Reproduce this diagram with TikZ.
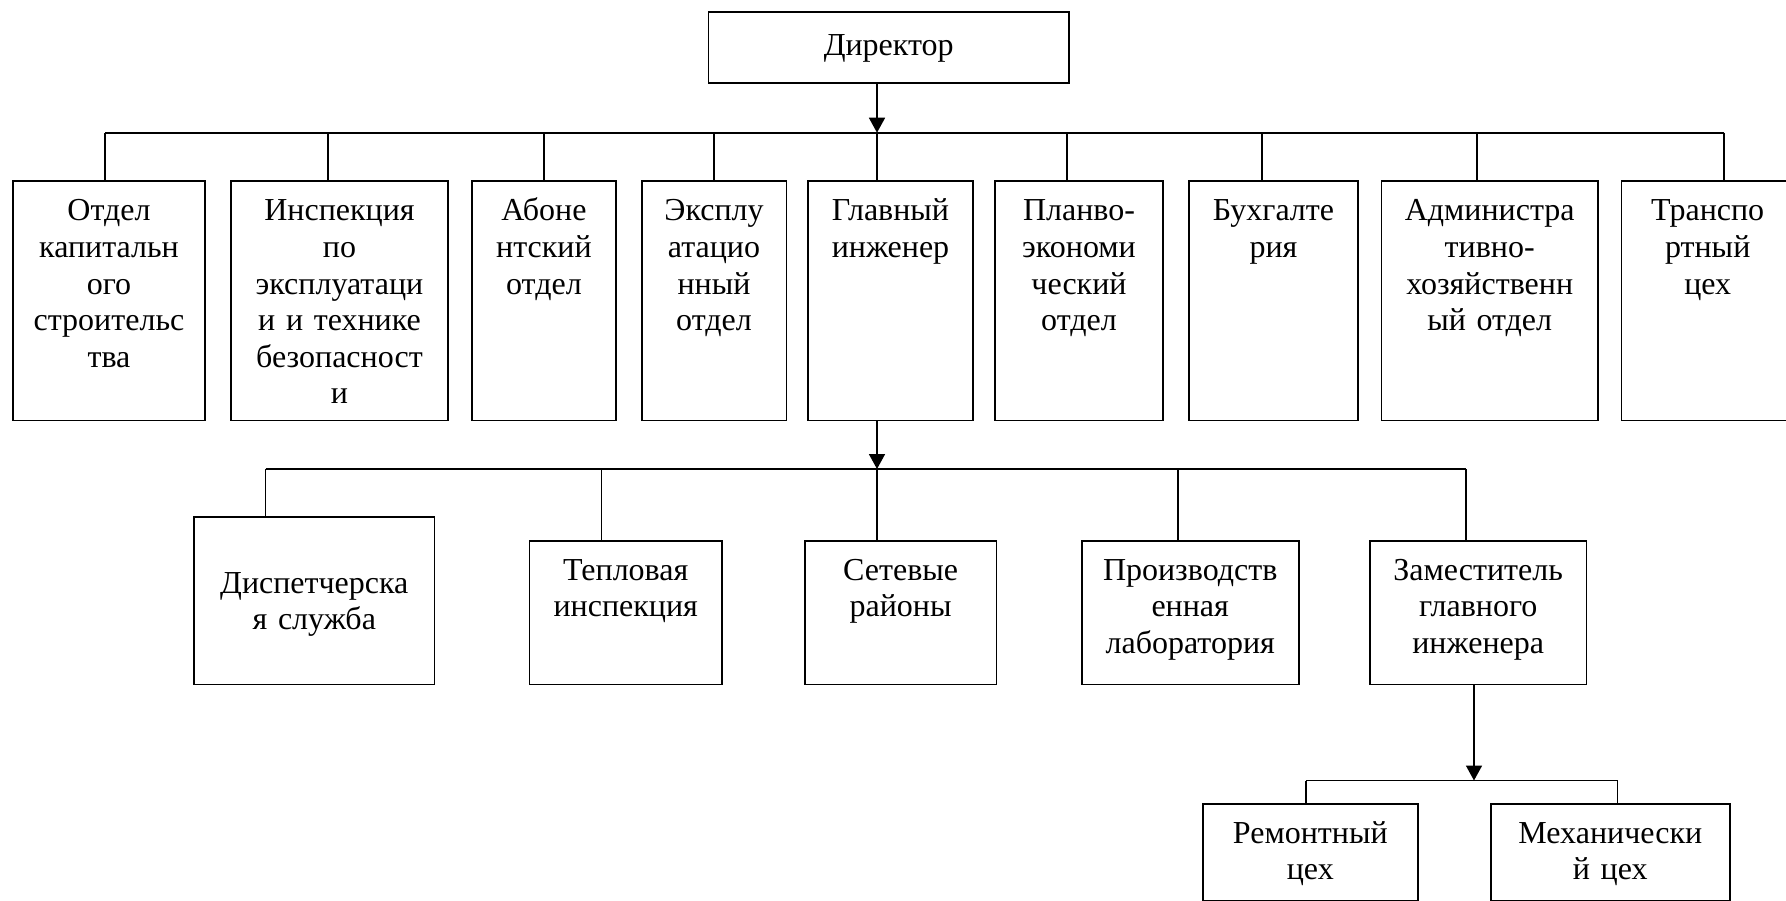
\documentclass[tikz,border=0pt]{standalone}
\usepackage{fontspec}
\setmainfont{Liberation Serif}
\usetikzlibrary{arrows.meta}

% one unit of the organisation chart: frame plus its centred caption
% #1 name, #2 #3 centre, #4 width, #5 height, #6 first baseline, #7 caption
\newcommand\orgunit[7]{%
  \node[unitframe, minimum width=#4pt, minimum height=#5pt] (#1) at (#2,#3) {};
  \node[unitcaption, anchor=base] (#1-t) at (#2,#6) {#7};
}

\begin{document}
\begin{tikzpicture}[x=1pt, y=-1pt,
  unitframe/.style={draw=black, line width=1.7pt, inner sep=0pt, fill=white},
  unitcaption/.style={inner sep=0pt, text width=300pt, align=center,
    font=\fontsize{32}{36.6}\selectfont},
  link/.style={draw=black, line width=1.7pt},
  feed/.style={link, -{Triangle[width=16pt,length=15pt]}}]

\path[use as bounding box, fill=white] (0,0) rectangle (1786,900);

% ---- top: director
\orgunit{dir}{888.7}{47.8}{360.5}{71}{55}{Директор}

% ---- first level departments
\orgunit{a1}{109}{300.6}{192}{239.8}{220.8}{Отдел\\капитальн\\ого\\строительс\\тва}
\orgunit{a2}{339.5}{300.6}{216.4}{239.8}{220.8}{Инспекция\\по\\эксплуатаци\\и и технике\\безопасност\\и}
\orgunit{a3}{543.9}{300.6}{144.2}{239.8}{220.8}{Абоне\\нтский\\отдел}
\orgunit{a4}{714}{300.6}{144.7}{239.8}{220.8}{Эксплу\\атацио\\нный\\отдел}
\orgunit{a5}{890.5}{300.6}{165}{239.8}{220.8}{Главный\\инженер}
\orgunit{a6}{1079}{300.6}{168}{239.8}{220.8}{Планво-\\экономи\\ческий\\отдел}
\orgunit{a7}{1273.5}{300.6}{169}{239.8}{220.8}{Бухгалте\\рия}
\orgunit{a8}{1489.7}{300.6}{216.5}{239.8}{220.8}{Администра\\тивно-\\хозяйственн\\ый отдел}
\orgunit{a9}{1707.7}{300.6}{172.4}{239.8}{220.8}{Транспо\\ртный\\цех}

% ---- second level (under the chief engineer)
\orgunit{b1}{314.3}{600.6}{240.6}{167.8}{593.3}{Диспетчерска\\я служба}
\orgunit{b2}{625.7}{612.6}{192.6}{143.8}{580}{Тепловая\\инспекция}
\orgunit{b3}{900.6}{612.6}{191.9}{143.8}{580}{Сетевые\\районы}
\orgunit{b4}{1190.2}{612.6}{217.1}{143.8}{580}{Производств\\енная\\лаборатория}
\orgunit{b5}{1478.2}{612.6}{216.5}{143.8}{580}{Заместитель\\главного\\инженера}

% ---- third level (under the deputy chief engineer)
\orgunit{c1}{1310.3}{852.3}{215.3}{97.2}{843.3}{Ремонтный\\цех}
\orgunit{c2}{1610.3}{852.3}{239.3}{97.2}{843.3}{Механически\\й цех}

% ---- bus points
\coordinate (s1) at (105,132.7);
\coordinate (s2) at (328,132.7);
\coordinate (s3) at (544,132.7);
\coordinate (s4) at (714,132.7);
\coordinate (s5) at (877,132.7);
\coordinate (s6) at (1067,132.7);
\coordinate (s7) at (1262,132.7);
\coordinate (s8) at (1477,132.7);
\coordinate (s9) at (1724,132.7);

\coordinate (t1) at (265.5,469);
\coordinate (t2) at (601.5,469);
\coordinate (t3) at (877,469);
\coordinate (t4) at (1178,469);
\coordinate (t5) at (1466,469);

\coordinate (u0) at (1474,780.5);
\coordinate (u1) at (1306,780.5);
\coordinate (u2) at (1617.6,780.5);

% ---- director to first level
\draw[feed] (dir.south -| s5) -- (s5);
\draw[link] (s1) -- (s9);
\foreach \i in {1,...,9} {
  \draw[link] (s\i) -- (s\i |- a\i.north);
}

% ---- chief engineer to second level
\draw[feed] (a5.south -| t3) -- (t3);
\draw[link] (t1) -- (t5);
\foreach \i in {1,...,5} {
  \draw[link] (t\i) -- (t\i |- b\i.north);
}

% ---- deputy to workshops
\draw[feed] (b5.south -| u0) -- (u0);
\draw[link] (u1) -- (u2);
\foreach \i in {1,2} {
  \draw[link] (u\i) -- (u\i |- c\i.north);
}
\end{tikzpicture}
\end{document}
